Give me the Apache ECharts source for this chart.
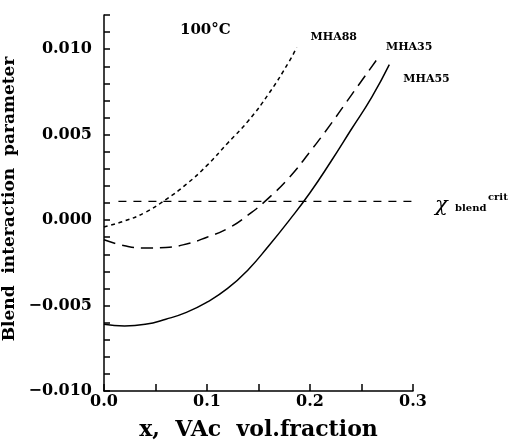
<!DOCTYPE html>
<html>
<head>
<meta charset="utf-8">
<script src="https://cdn.jsdelivr.net/npm/echarts@6/dist/echarts.min.js"></script>
<style>
  html, body { margin: 0; padding: 0; background: #fff; }
  #chart { width: 508px; height: 446px; }
</style>
</head>
<body>
<div id="chart"></div>
<script>
// Blend interaction parameter vs. VAc volume fraction at 100 °C
const xMHA88 = [0, 0.02, 0.04, 0.06, 0.08, 0.10, 0.12, 0.14, 0.16, 0.18, 0.187];
const yMHA88 = [-0.0004, -0.00005, 0.00045, 0.0012, 0.0021, 0.0032, 0.0045, 0.0058, 0.0074, 0.0093, 0.0101];

const xMHA35 = [0, 0.02, 0.04, 0.06, 0.08, 0.10, 0.12, 0.14, 0.16, 0.18, 0.20, 0.22, 0.24, 0.265];
const yMHA35 = [-0.00115, -0.0015, -0.00164, -0.0016, -0.0014, -0.0010, -0.0005, 0.0003, 0.0013, 0.0025, 0.0040, 0.0056, 0.0073, 0.0094];

const xMHA55 = [0, 0.02, 0.04, 0.06, 0.08, 0.10, 0.12, 0.14, 0.16, 0.18, 0.20, 0.22, 0.24, 0.26, 0.277];
const yMHA55 = [-0.0061, -0.0062, -0.0061, -0.0058, -0.0054, -0.0048, -0.0040, -0.0029, -0.0015, 0.0000, 0.0016, 0.0034, 0.0053, 0.0072, 0.0091];

// critical value of the blend interaction parameter
const chiCrit = 0.0011;
const chiX = [0.014, 0.305];

const xTicks = ['0.0', '0.1', '0.2', '0.3'];
const yTicks = ['0.010', '0.005', '0.000', '\u22120.005', '\u22120.010'];

const zip = (xs, ys) => xs.map((x, i) => [x, ys[i]]);

const serif = 'DejaVu Serif';
const ink = '#000';

const lineSeries = (name, xs, ys, dash, offset) => ({
  type: 'line',
  name: name,
  data: zip(xs, ys),
  smooth: true,
  showSymbol: false,
  symbol: 'none',
  silent: true,
  lineStyle: { color: ink, width: 1.5, type: dash },
  endLabel: {
    show: true,
    formatter: name,
    color: ink,
    fontFamily: serif,
    fontWeight: 'bold',
    fontSize: 11,
    offset: offset
  }
});

const chart = echarts.init(document.getElementById('chart'), null, { renderer: 'canvas' });

chart.setOption({
  animation: false,
  backgroundColor: '#fff',
  grid: { left: 104, right: 95, top: 15, bottom: 45, containLabel: false },
  xAxis: {
    type: 'value',
    min: 0,
    max: 0.3,
    interval: 0.05,
    name: 'x,  VAc  vol.fraction',
    nameLocation: 'middle',
    nameGap: 28,
    nameTextStyle: { color: ink, fontFamily: serif, fontWeight: 'bold', fontSize: 22 },
    axisLine: { show: true, onZero: false, lineStyle: { color: ink, width: 1.5 } },
    axisTick: { show: true, inside: true, length: 7, lineStyle: { color: ink, width: 1.5 } },
    splitLine: { show: false },
    axisLabel: {
      color: ink,
      fontFamily: serif,
      fontWeight: 'bold',
      fontSize: 16,
      margin: 3,
      formatter: v => {
        const k = Math.round(v * 10);
        return Math.abs(v * 10 - k) < 1e-6 ? xTicks[k] : '';
      }
    }
  },
  yAxis: {
    type: 'value',
    min: -0.010,
    max: 0.012,
    interval: 0.001,
    axisLine: { show: true, onZero: false, lineStyle: { color: ink, width: 1.5 } },
    axisTick: { show: true, inside: true, length: 6, lineStyle: { color: ink, width: 1.5 } },
    splitLine: { show: false },
    axisLabel: {
      color: ink,
      fontFamily: serif,
      fontWeight: 'bold',
      fontSize: 16,
      margin: 12,
      formatter: v => {
        const k = Math.round(v / 0.005);
        if (Math.abs(v / 0.005 - k) > 1e-6) return '';
        const idx = 2 - k;
        return yTicks[idx] !== undefined ? yTicks[idx] : '';
      }
    }
  },
  series: [
    lineSeries('MHA88', xMHA88, yMHA88, [4, 3.5], [6, -10]),
    lineSeries('MHA35', xMHA35, yMHA35, [12, 7], [1, -12]),
    {
      type: 'line',
      name: 'MHA55',
      data: zip(xMHA55, yMHA55),
      smooth: true,
      showSymbol: false,
      symbol: 'none',
      silent: true,
      lineStyle: { color: ink, width: 1.5, type: 'solid' },
      endLabel: {
        show: true,
        formatter: 'MHA55',
        color: ink,
        fontFamily: serif,
        fontWeight: 'bold',
        fontSize: 11,
        offset: [6, 15]
      }
    },
    {
      type: 'line',
      name: 'chi crit',
      data: chiX.map(x => [x, chiCrit]),
      showSymbol: false,
      symbol: 'none',
      silent: true,
      clip: false,
      lineStyle: { color: ink, width: 1.3, type: [8, 7] }
    }
  ],
  graphic: [
    {
      type: 'text',
      left: 180, top: 23,
      style: { text: '100°C', fill: ink, font: 'bold 15px "DejaVu Serif"' }
    },
    {
      type: 'text',
      x: 10, y: 199,
      rotation: Math.PI / 2,
      style: {
        text: 'Blend  interaction  parameter',
        fill: ink,
        font: 'bold 17px "DejaVu Serif"',
        align: 'center',
        verticalAlign: 'middle'
      }
    },
    {
      type: 'text',
      left: 435, top: 195,
      style: { text: '\u03C7', fill: ink, font: 'italic 21px "DejaVu Serif"' }
    },
    {
      type: 'text',
      left: 455, top: 203,
      style: { text: 'blend', fill: ink, font: 'bold 10px "DejaVu Serif"' }
    },
    {
      type: 'text',
      left: 488, top: 192,
      style: { text: 'crit', fill: ink, font: 'bold 10px "DejaVu Serif"' }
    }
  ]
});
</script>
</body>
</html>
